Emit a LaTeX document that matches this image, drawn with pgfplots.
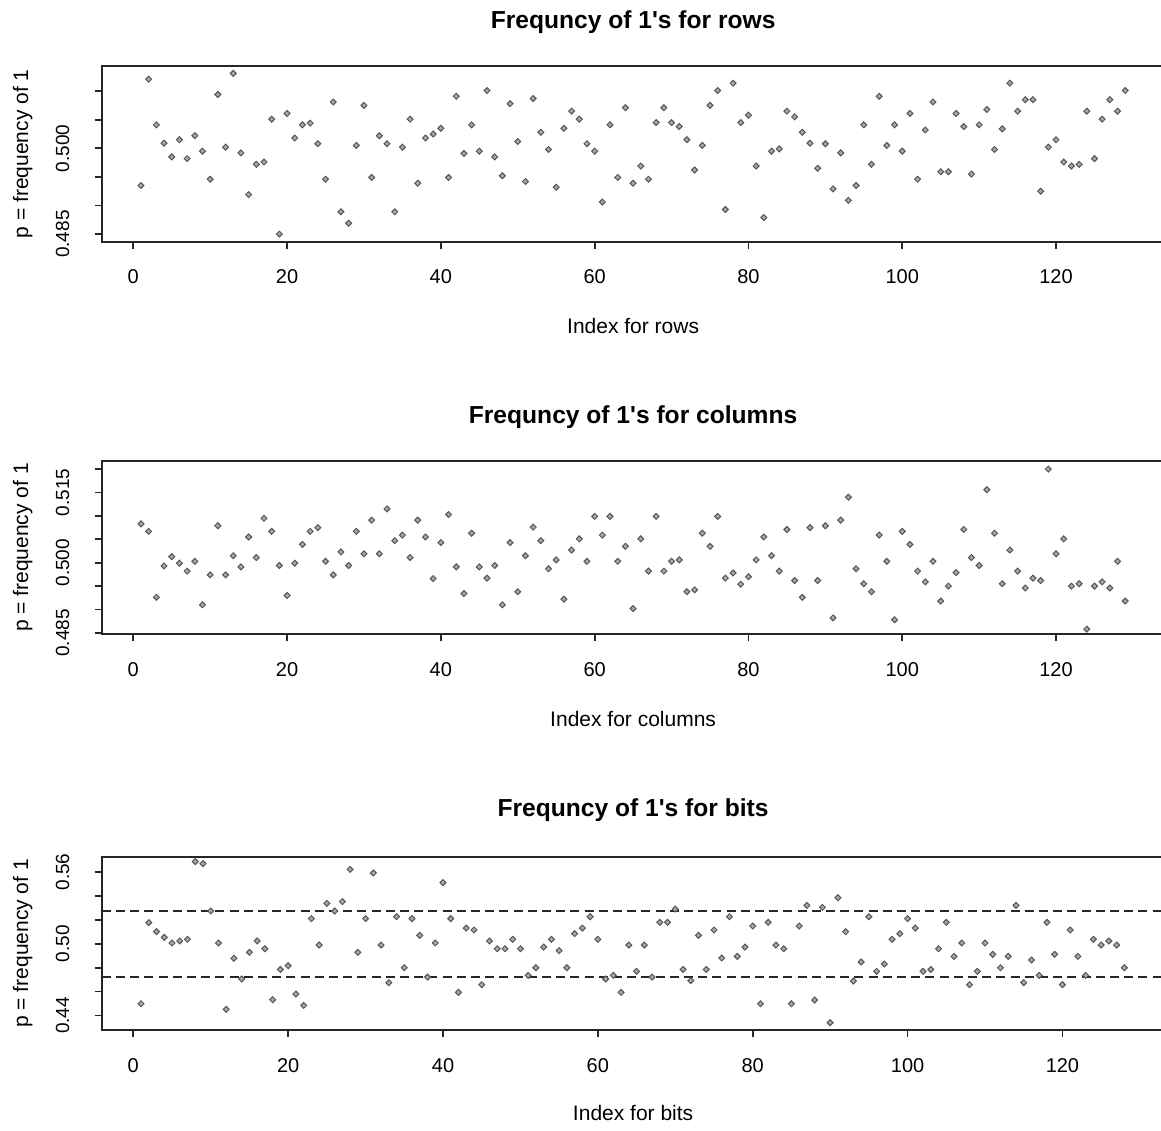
\documentclass[border=0pt]{standalone}
\usepackage{fontspec}
\setmainfont{Liberation Sans}
\usepackage{pgfplots}
\pgfplotsset{compat=1.18}
\definecolor{axgray}{HTML}{262626}
\definecolor{mkedge}{HTML}{555555}
\definecolor{mkfill}{HTML}{A8A8A8}
\pgfplotsset{
  rplot/.style={
    scale only axis, anchor=south west, width=531.5pt,
    axis line style={axgray, line width=0.9pt},
    every tick/.style={axgray, line width=0.9pt},
    tick align=outside, major tick length=3.5pt,
    tick pos=left,
    xmin=-4.12, xmax=134.12,
    xtick={0,20,...,120},
    /pgf/number format/assume math mode=true,
    xticklabel={\pgfmathprintnumber{\tick}},
    xticklabel style={font=\fontsize{10}{12}\selectfont, anchor=base, inner sep=0pt},
    xticklabel shift=17.5pt,
    yticklabel style={font=\fontsize{9.5}{11}\selectfont, rotate=90, anchor=base, inner sep=0pt},
    yticklabel shift=12.8pt,
    minor tick num=0,
    scaled y ticks=false,
  },
  rmarks/.style={only marks, mark=square*, mark size=1.05pt,
    mark options={rotate=45, fill=mkfill, draw=mkedge, line width=0.5pt}},
}
\begin{document}
\begin{tikzpicture}
% ---------- rows ----------
\begin{axis}[rplot,
  at={(50.8pt,-120.85pt)}, height=87.85pt,
  ymin=0.48367, ymax=0.51439,
  ytick={0.485,0.490,0.495,0.500,0.505,0.510},
  yticklabels={0.485,,,0.500,,},
]
\addplot[rmarks] table {
1 0.4935
2 0.5121
3 0.5041
4 0.5009
5 0.4985
6 0.5015
7 0.4982
8 0.5022
9 0.4995
10 0.4946
11 0.5094
12 0.5002
13 0.5131
14 0.4992
15 0.4919
16 0.4972
17 0.4976
18 0.5051
19 0.4850
20 0.5061
21 0.5018
22 0.5041
23 0.5044
24 0.5008
25 0.4946
26 0.5081
27 0.4889
28 0.4869
29 0.5005
30 0.5075
31 0.4949
32 0.5022
33 0.5008
34 0.4889
35 0.5002
36 0.5051
37 0.4939
38 0.5018
39 0.5025
40 0.5035
41 0.4949
42 0.5091
43 0.4991
44 0.5041
45 0.4995
46 0.5101
47 0.4985
48 0.4952
49 0.5078
50 0.5012
51 0.4942
52 0.5087
53 0.5028
54 0.4998
55 0.4932
56 0.5035
57 0.5065
58 0.5051
59 0.5008
60 0.4995
61 0.4906
62 0.5041
63 0.4949
64 0.5071
65 0.4939
66 0.4969
67 0.4946
68 0.5045
69 0.5071
70 0.5045
71 0.5038
72 0.5015
73 0.4962
74 0.5005
75 0.5075
76 0.5101
77 0.4893
78 0.5114
79 0.5045
80 0.5058
81 0.4969
82 0.4879
83 0.4995
84 0.4999
85 0.5065
86 0.5055
87 0.5028
88 0.5009
89 0.4965
90 0.5008
91 0.4929
92 0.4992
93 0.4909
94 0.4935
95 0.5041
96 0.4972
97 0.5091
98 0.5005
99 0.5041
100 0.4995
101 0.5061
102 0.4946
103 0.5032
104 0.5081
105 0.4959
106 0.4959
107 0.5061
108 0.5038
109 0.4955
110 0.5041
111 0.5068
112 0.4998
113 0.5034
114 0.5114
115 0.5065
116 0.5085
117 0.5085
118 0.4925
119 0.5002
120 0.5015
121 0.4976
122 0.4969
123 0.4972
124 0.5065
125 0.4982
126 0.5051
127 0.5085
128 0.5065
129 0.5101
};
\end{axis}
% ---------- columns ----------
\begin{axis}[rplot,
  at={(50.8pt,-317pt)}, height=86.35pt,
  ymin=0.48476, ymax=0.52167,
  ytick={0.485,0.490,0.495,0.500,0.505,0.510,0.515,0.520},
  yticklabels={0.485,,,0.500,,,0.515,},
]
\addplot[rmarks] table {
1 0.5083
2 0.5067
3 0.4926
4 0.4993
5 0.5013
6 0.4999
7 0.4982
8 0.5003
9 0.4910
10 0.4974
11 0.5079
12 0.4974
13 0.5015
14 0.4991
15 0.5055
16 0.5011
17 0.5095
18 0.5067
19 0.4994
20 0.4930
21 0.4999
22 0.5039
23 0.5067
24 0.5075
25 0.5003
26 0.4974
27 0.5023
28 0.4994
29 0.5067
30 0.5019
31 0.5091
32 0.5019
33 0.5115
34 0.5047
35 0.5059
36 0.5011
37 0.5091
38 0.5055
39 0.4966
40 0.5043
41 0.5103
42 0.4991
43 0.4934
44 0.5063
45 0.4991
46 0.4967
47 0.4994
48 0.4910
49 0.5043
50 0.4938
51 0.5015
52 0.5076
53 0.5047
54 0.4987
55 0.5006
56 0.4922
57 0.5027
58 0.5051
59 0.5003
60 0.5099
61 0.5059
62 0.5099
63 0.5003
64 0.5035
65 0.4902
66 0.5051
67 0.4982
68 0.5099
69 0.4982
70 0.5003
71 0.5006
72 0.4938
73 0.4942
74 0.5063
75 0.5035
76 0.5099
77 0.4967
78 0.4978
79 0.4954
80 0.4970
81 0.5006
82 0.5055
83 0.5015
84 0.4982
85 0.5071
86 0.4962
87 0.4926
88 0.5075
89 0.4962
90 0.5079
91 0.4882
92 0.5091
93 0.5140
94 0.4987
95 0.4955
96 0.4938
97 0.5059
98 0.5003
99 0.4878
100 0.5067
101 0.5039
102 0.4982
103 0.4959
104 0.5003
105 0.4918
106 0.4950
107 0.4979
108 0.5071
109 0.5011
110 0.4994
111 0.5156
112 0.5063
113 0.4955
114 0.5027
115 0.4982
116 0.4946
117 0.4967
118 0.4962
119 0.5200
120 0.5019
121 0.5051
122 0.4950
123 0.4955
124 0.4858
125 0.4950
126 0.4959
127 0.4946
128 0.5003
129 0.4918
};
\end{axis}
% ---------- bits ----------
\begin{axis}[rplot,
  at={(50.85pt,-515pt)}, height=86.65pt, width=531pt,
  xmin=-4.08, xmax=133.08,
  ymin=0.4278, ymax=0.5728,
  ytick={0.44,0.46,0.48,0.50,0.52,0.54,0.56},
  yticklabels={0.44,,,0.50,,,0.56},
]
\addplot[axgray, line width=0.95pt, dash pattern=on 4.5pt off 2.6pt] coordinates {(-4.08,0.5274) (133.08,0.5274)};
\addplot[axgray, line width=0.95pt, dash pattern=on 4.5pt off 2.6pt] coordinates {(-4.08,0.4720) (133.08,0.4720)};
\addplot[rmarks] table {
1 0.4498
2 0.5176
3 0.5101
4 0.5053
5 0.5006
6 0.5023
7 0.5037
8 0.5687
9 0.5670
10 0.5274
11 0.5006
12 0.4451
13 0.4878
14 0.4705
15 0.4928
16 0.5023
17 0.4958
18 0.4532
19 0.4785
20 0.4816
21 0.4579
22 0.4484
23 0.5210
24 0.4989
25 0.5338
26 0.5274
27 0.5352
28 0.5622
29 0.4928
30 0.5210
31 0.5592
32 0.4989
33 0.4674
34 0.5226
35 0.4799
36 0.5210
37 0.5070
38 0.4721
39 0.5006
40 0.5511
41 0.5210
42 0.4593
43 0.5131
44 0.5115
45 0.4657
46 0.5023
47 0.4958
48 0.4958
49 0.5037
50 0.4958
51 0.4735
52 0.4799
53 0.4972
54 0.5037
55 0.4942
56 0.4799
57 0.5084
58 0.5131
59 0.5226
60 0.5037
61 0.4705
62 0.4735
63 0.4593
64 0.4989
65 0.4769
66 0.4989
67 0.4721
68 0.5179
69 0.5179
70 0.5290
71 0.4785
72 0.4691
73 0.5070
74 0.4785
75 0.5115
76 0.4880
77 0.5226
78 0.4894
79 0.4972
80 0.5148
81 0.4498
82 0.5179
83 0.4989
84 0.4958
85 0.4498
86 0.5148
87 0.5321
88 0.4529
89 0.5304
90 0.4339
91 0.5385
92 0.5101
93 0.4688
94 0.4847
95 0.5226
96 0.4769
97 0.4830
98 0.5037
99 0.5084
100 0.5210
101 0.5131
102 0.4769
103 0.4785
104 0.4958
105 0.5179
106 0.4894
107 0.5006
108 0.4657
109 0.4769
110 0.5006
111 0.4911
112 0.4799
113 0.4894
114 0.5321
115 0.4674
116 0.4864
117 0.4735
118 0.5179
119 0.4911
120 0.4657
121 0.5115
122 0.4894
123 0.4735
124 0.5037
125 0.4989
126 0.5023
127 0.4989
128 0.4799
};
\end{axis}
% ---------- titles and labels ----------
\node[anchor=base, font=\fontsize{12.3}{14}\selectfont\bfseries] at (316.55pt,-14pt) {Frequncy of 1\textquotesingle s for rows};
\node[anchor=base, font=\fontsize{12.3}{14}\selectfont\bfseries] at (316.55pt,-211.5pt) {Frequncy of 1\textquotesingle s for columns};
\node[anchor=base, font=\fontsize{12.3}{14}\selectfont\bfseries] at (316.55pt,-408pt) {Frequncy of 1\textquotesingle s for bits};
\node[anchor=base, font=\fontsize{10.5}{12}\selectfont] at (316.55pt,-166.5pt) {Index for rows};
\node[anchor=base, font=\fontsize{10.5}{12}\selectfont] at (316.55pt,-363pt) {Index for columns};
\node[anchor=base, font=\fontsize{10.5}{12}\selectfont] at (316.55pt,-560pt) {Index for bits};
\node[anchor=base, rotate=90, font=\fontsize{10.5}{12}\selectfont] at (14pt,-76.9pt) {p = frequency of 1};
\node[anchor=base, rotate=90, font=\fontsize{10.5}{12}\selectfont] at (14pt,-273.8pt) {p = frequency of 1};
\node[anchor=base, rotate=90, font=\fontsize{10.5}{12}\selectfont] at (14pt,-471.7pt) {p = frequency of 1};
\pgfresetboundingbox
\path[use as bounding box] (0pt,0pt) rectangle (580.5pt,-565pt);
\end{tikzpicture}
\end{document}
